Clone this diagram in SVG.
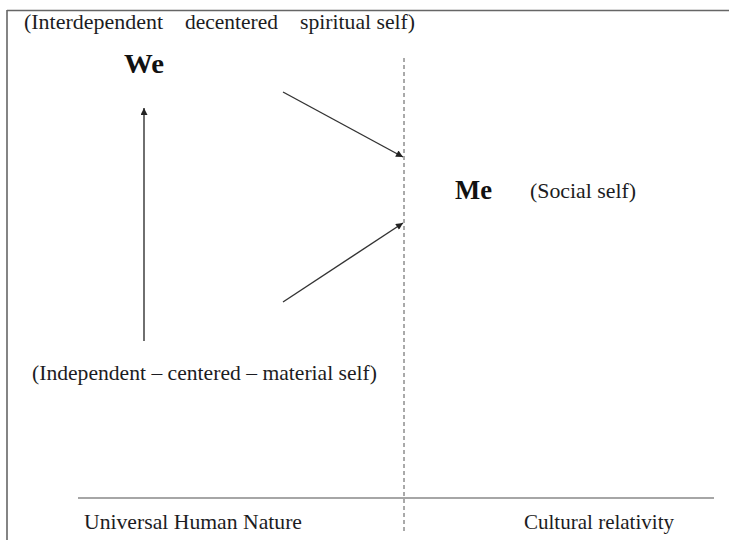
<svg xmlns="http://www.w3.org/2000/svg" width="729" height="540" viewBox="0 0 729 540">
<style>
  .t { font-family: "Liberation Serif", "Times New Roman", serif; font-size: 21px; fill: #1c1c22; }
  .b { font-family: "Liberation Serif", "Times New Roman", serif; font-size: 28px; font-weight: bold; fill: #111; }
  .conn { stroke: #333; stroke-width: 1.4; fill: none; }
</style>
<defs>
  <marker id="ah" viewBox="0 0 10 10" refX="10" refY="5" markerWidth="9" markerHeight="7" markerUnits="userSpaceOnUse" orient="auto">
    <path d="M0,0 L10,5 L0,10 z" fill="#222"/>
  </marker>
</defs>
<rect width="729" height="540" fill="#fff"/>
<g id="frame">
  <line x1="7" y1="10.5" x2="729" y2="10.5" stroke="#666" stroke-width="1.6"/>
  <line x1="7" y1="10" x2="7" y2="540" stroke="#666" stroke-width="1.6"/>
</g>
<g id="axes">
  <line x1="404" y1="58" x2="404" y2="532" stroke="#555" stroke-width="1" stroke-dasharray="4 3"/>
  <line x1="78" y1="498" x2="714" y2="498" stroke="#888" stroke-width="1.6"/>
</g>
<g id="connectors">
  <line class="conn" x1="144" y1="341" x2="144" y2="108" marker-end="url(#ah)"/>
  <line class="conn" x1="283" y1="92" x2="403" y2="157" marker-end="url(#ah)"/>
  <line class="conn" x1="283" y1="302" x2="403" y2="223" marker-end="url(#ah)"/>
</g>
<g id="top-label">
  <text class="t" x="24" y="29" textLength="139" lengthAdjust="spacingAndGlyphs">(Interdependent</text>
  <text class="t" x="185" y="29" textLength="93" lengthAdjust="spacingAndGlyphs">decentered</text>
  <text class="t" x="300" y="29" textLength="115" lengthAdjust="spacingAndGlyphs">spiritual self)</text>
</g>
<g id="we">
  <text class="b" x="124" y="73" textLength="40" lengthAdjust="spacingAndGlyphs">We</text>
</g>
<g id="me">
  <text class="b" x="455" y="199" textLength="37" lengthAdjust="spacingAndGlyphs">Me</text>
  <text class="t" x="530" y="198" textLength="106" lengthAdjust="spacingAndGlyphs">(Social self)</text>
</g>
<g id="bottom-label">
  <text class="t" x="32" y="380" textLength="345" lengthAdjust="spacingAndGlyphs">(Independent – centered – material self)</text>
</g>
<g id="universal">
  <text class="t" x="84" y="529" textLength="218" lengthAdjust="spacingAndGlyphs">Universal Human Nature</text>
</g>
<g id="cultural">
  <text class="t" x="524" y="529" textLength="150" lengthAdjust="spacingAndGlyphs">Cultural relativity</text>
</g>
</svg>
